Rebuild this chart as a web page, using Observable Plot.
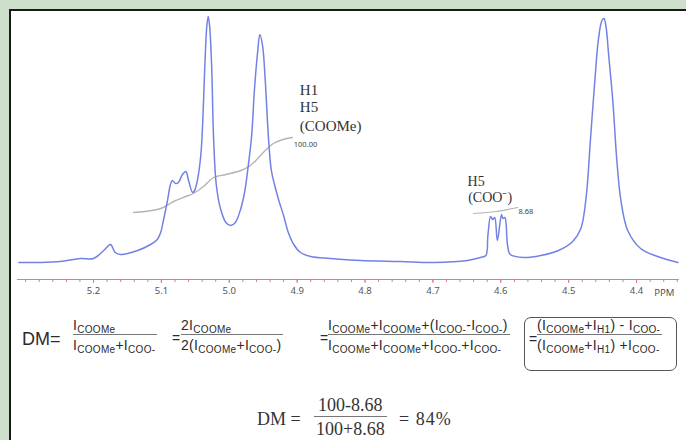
<!DOCTYPE html>
<html><head><meta charset="utf-8">
<script src="https://cdn.jsdelivr.net/npm/d3@7"></script>
<script src="https://cdn.jsdelivr.net/npm/@observablehq/plot@0.6"></script>
<style>
html,body{margin:0;padding:0;}
body{width:686px;height:440px;overflow:hidden;background:#cedfcb;position:relative;font-family:"Liberation Sans",Arial,sans-serif;}
#panel{position:absolute;left:9px;top:9px;width:720px;height:480px;background:#fff;border-left:2px solid #1a1a1a;border-top:2px solid #1a1a1a;}
#chart{position:absolute;left:0;top:0;}
.t{position:absolute;color:#2b2b2b;white-space:nowrap;line-height:1;}
.fr{position:absolute;font-size:14px;color:#2b2b2b;line-height:14px;white-space:nowrap;letter-spacing:0.3px;}
.fr .n{border-bottom:1px solid #777;padding:0 2px 2px 0;}
.fr .d{padding:3px 2px 0 0;}
.fr sub{font-size:10px;vertical-align:-3px;line-height:0;}
.box{position:absolute;left:524px;top:317px;width:151px;height:52px;border:1px solid #555;border-radius:7px;}
.fs{position:absolute;font-family:"Liberation Serif","Times New Roman",serif;font-size:18px;color:#333;line-height:20px;text-align:center;white-space:nowrap;}
.fs .n{border-bottom:1px solid #777;padding:0 2px 1px 2px;}
.fs .d{padding:2px 2px 0 2px;}
</style>
</head><body>
<div id="panel"></div>
<div id="chart"></div>

<div class="t" style="left:22px;top:330px;font-size:18px;">DM=</div>
<div class="fr" style="left:73px;top:318px;"><div class="n">I<sub>COOMe</sub></div><div class="d">I<sub>COOMe</sub>+I<sub>COO-</sub></div></div>
<div class="t" style="left:172px;top:331px;font-size:14px;color:#2b2b2b;">=</div>
<div class="fr" style="left:181px;top:318px;"><div class="n">2I<sub>COOMe</sub></div><div class="d">2(I<sub>COOMe</sub>+I<sub>COO-</sub>)</div></div>
<div class="t" style="left:320px;top:331px;font-size:14px;color:#2b2b2b;">=</div>
<div class="fr" style="left:328px;top:318px;"><div class="n">I<sub>COOMe</sub>+I<sub>COOMe</sub>+(I<sub>COO-</sub>-I<sub>COO-</sub>)</div><div class="d">I<sub>COOMe</sub>+I<sub>COOMe</sub>+I<sub>COO-</sub>+I<sub>COO-</sub></div></div>
<div class="box"></div>
<div class="t" style="left:529px;top:332px;font-size:14px;color:#2b2b2b;">=</div>
<div class="fr" style="left:537px;top:318px;"><div class="n">(I<sub>COOMe</sub>+I<sub>H1</sub>) - I<sub>COO-</sub></div><div class="d">(I<sub>COOMe</sub>+I<sub>H1</sub>) +I<sub>COO-</sub></div></div>

<div class="t" style="left:257px;top:410px;font-family:'Liberation Serif',serif;font-size:18px;color:#333;">DM =</div>
<div class="fs" style="left:314px;top:395px;"><div class="n">100-8.68</div><div class="d">100+8.68</div></div>
<div class="t" style="left:399px;top:410px;font-family:'Liberation Serif',serif;font-size:18px;letter-spacing:1px;color:#333;">= 84%</div>

<script>
// 1H NMR spectrum (chemical shift in ppm, relative intensity)
const ppm = [5.310, 5.278, 5.249, 5.219, 5.200, 5.185, 5.175, 5.168, 5.160, 5.135,
  5.116, 5.106, 5.101, 5.097, 5.091, 5.087, 5.084, 5.079, 5.075, 5.069,
  5.064, 5.060, 5.054, 5.051, 5.047, 5.042, 5.039, 5.036, 5.033, 5.031,
  5.029, 5.026, 5.023, 5.019, 5.013, 5.005, 4.998, 4.991, 4.983, 4.977,
  4.972, 4.967, 4.963, 4.958, 4.955, 4.951, 4.947, 4.942, 4.938, 4.933,
  4.927, 4.920, 4.913, 4.905, 4.895, 4.880, 4.851, 4.807, 4.748, 4.699,
  4.649, 4.630, 4.622, 4.619, 4.615, 4.612, 4.609, 4.605, 4.599, 4.597,
  4.594, 4.590, 4.586, 4.566, 4.541, 4.515, 4.494, 4.482, 4.474, 4.468,
  4.462, 4.456, 4.451, 4.448, 4.445, 4.441, 4.435, 4.429, 4.423, 4.413,
  4.394, 4.369, 4.339];
const intensity = [0, 0, 1, 4, 4, 12, 18, 10, 8, 12,
  18, 23, 30, 42, 62, 77, 82, 79, 80, 88,
  91, 82, 70, 72, 82, 107, 142, 197, 237, 246,
  237, 197, 122, 77, 54, 40, 37, 40, 54, 72,
  97, 127, 172, 212, 228, 217, 182, 122, 92, 77,
  62, 47, 30, 18, 10, 6, 4, 2, 1, 0,
  2, 5, 7, 27, 46, 43, 45, 22, 48, 44,
  45, 17, 8, 5, 7, 12, 21, 34, 67, 122,
  177, 224, 242, 244, 236, 207, 162, 102, 62, 32,
  14, 6, 0];

// integral traces
const integPpm = [5.141, 5.101, 5.082, 5.064, 5.053, 5.038, 5.023, 5.005, 4.983, 4.969, 4.958, 4.947, 4.935, 4.921, 4.907];
const integVal = [50, 54, 61, 66, 69, 76, 85, 88, 92, 97, 104, 112, 119, 123, 125];
const cooPpm = [4.640, 4.607, 4.575];
const cooVal = [49, 51, 55];

// annotations
const labelText = ["H1", "H5", "(COOMe)", "H5", "(COO\u207B)"];
const labelPpm = [4.896, 4.896, 4.896, 4.649, 4.648];
const labelVal = [172, 155, 136, 81, 65];
const labelSize = [15, 15, 15, 14, 14];
const integLabelText = ["100.00", "8.68"];
const integLabelPpm = [4.905, 4.574];
const integLabelVal = [118, 51];

// axis ticks
const majorTicks = [5.2, 5.1, 5.0, 4.9, 4.8, 4.7, 4.6, 4.5, 4.4];
const minorTicks = d3.range(4.34, 5.311, 0.02);
const axisUnit = "PPM";

const spectrum = ppm.map((p, i) => ({ppm: p, I: intensity[i]}));
const integral = integPpm.map((p, i) => ({ppm: p, I: integVal[i]}));
const integralCoo = cooPpm.map((p, i) => ({ppm: p, I: cooVal[i]}));
const labels = labelText.map((t, i) => ({t, ppm: labelPpm[i], I: labelVal[i], s: labelSize[i]}));
const integLabels = integLabelText.map((t, i) => ({t, ppm: integLabelPpm[i], I: integLabelVal[i]}));

const pink = "#e8768c";
const chart = Plot.plot({
  width: 686, height: 300,
  marginLeft: 17, marginRight: 7.2, marginTop: 12, marginBottom: 21,
  x: {domain: [5.312, 4.337], label: null},
  y: {domain: [-17, 250], axis: null},
  style: {background: "transparent", overflow: "visible"},
  marks: [
    Plot.ruleY([-17], {stroke: pink, strokeWidth: 1}),
    Plot.axisX(minorTicks, {tickSize: 3, tickFormat: () => "", stroke: pink, label: null}),
    Plot.axisX(majorTicks, {tickSize: 4, tickPadding: 4, tickFormat: d => d.toFixed(1), stroke: pink, fill: "#555", fontSize: 9.5, label: null}),
    Plot.text([axisUnit], {x: 4.359, y: -30, text: d => d, fill: "#555", fontSize: 9.5}),
    Plot.line(integral, {x: "ppm", y: "I", stroke: "#b4b4b4", strokeWidth: 1.4, curve: "catmull-rom"}),
    Plot.line(integralCoo, {x: "ppm", y: "I", stroke: "#b4b4b4", strokeWidth: 1.2, curve: "catmull-rom"}),
    Plot.line(spectrum, {x: "ppm", y: "I", stroke: "#7282e4", strokeWidth: 1.5, curve: "catmull-rom"}),
    Plot.text(labels.filter(d => d.s === 15), {x: "ppm", y: "I", text: "t", textAnchor: "start", fontFamily: "Liberation Serif, serif", fontSize: 15, fill: "#333"}),
    Plot.text(labels.filter(d => d.s === 14), {x: "ppm", y: "I", text: "t", textAnchor: "start", fontFamily: "Liberation Serif, serif", fontSize: 14, fill: "#333"}),
    Plot.text(integLabels, {x: "ppm", y: "I", text: "t", textAnchor: "start", fontSize: 7.5, fill: "#444"})
  ]
});
document.getElementById("chart").appendChild(chart);
</script>
</body></html>
